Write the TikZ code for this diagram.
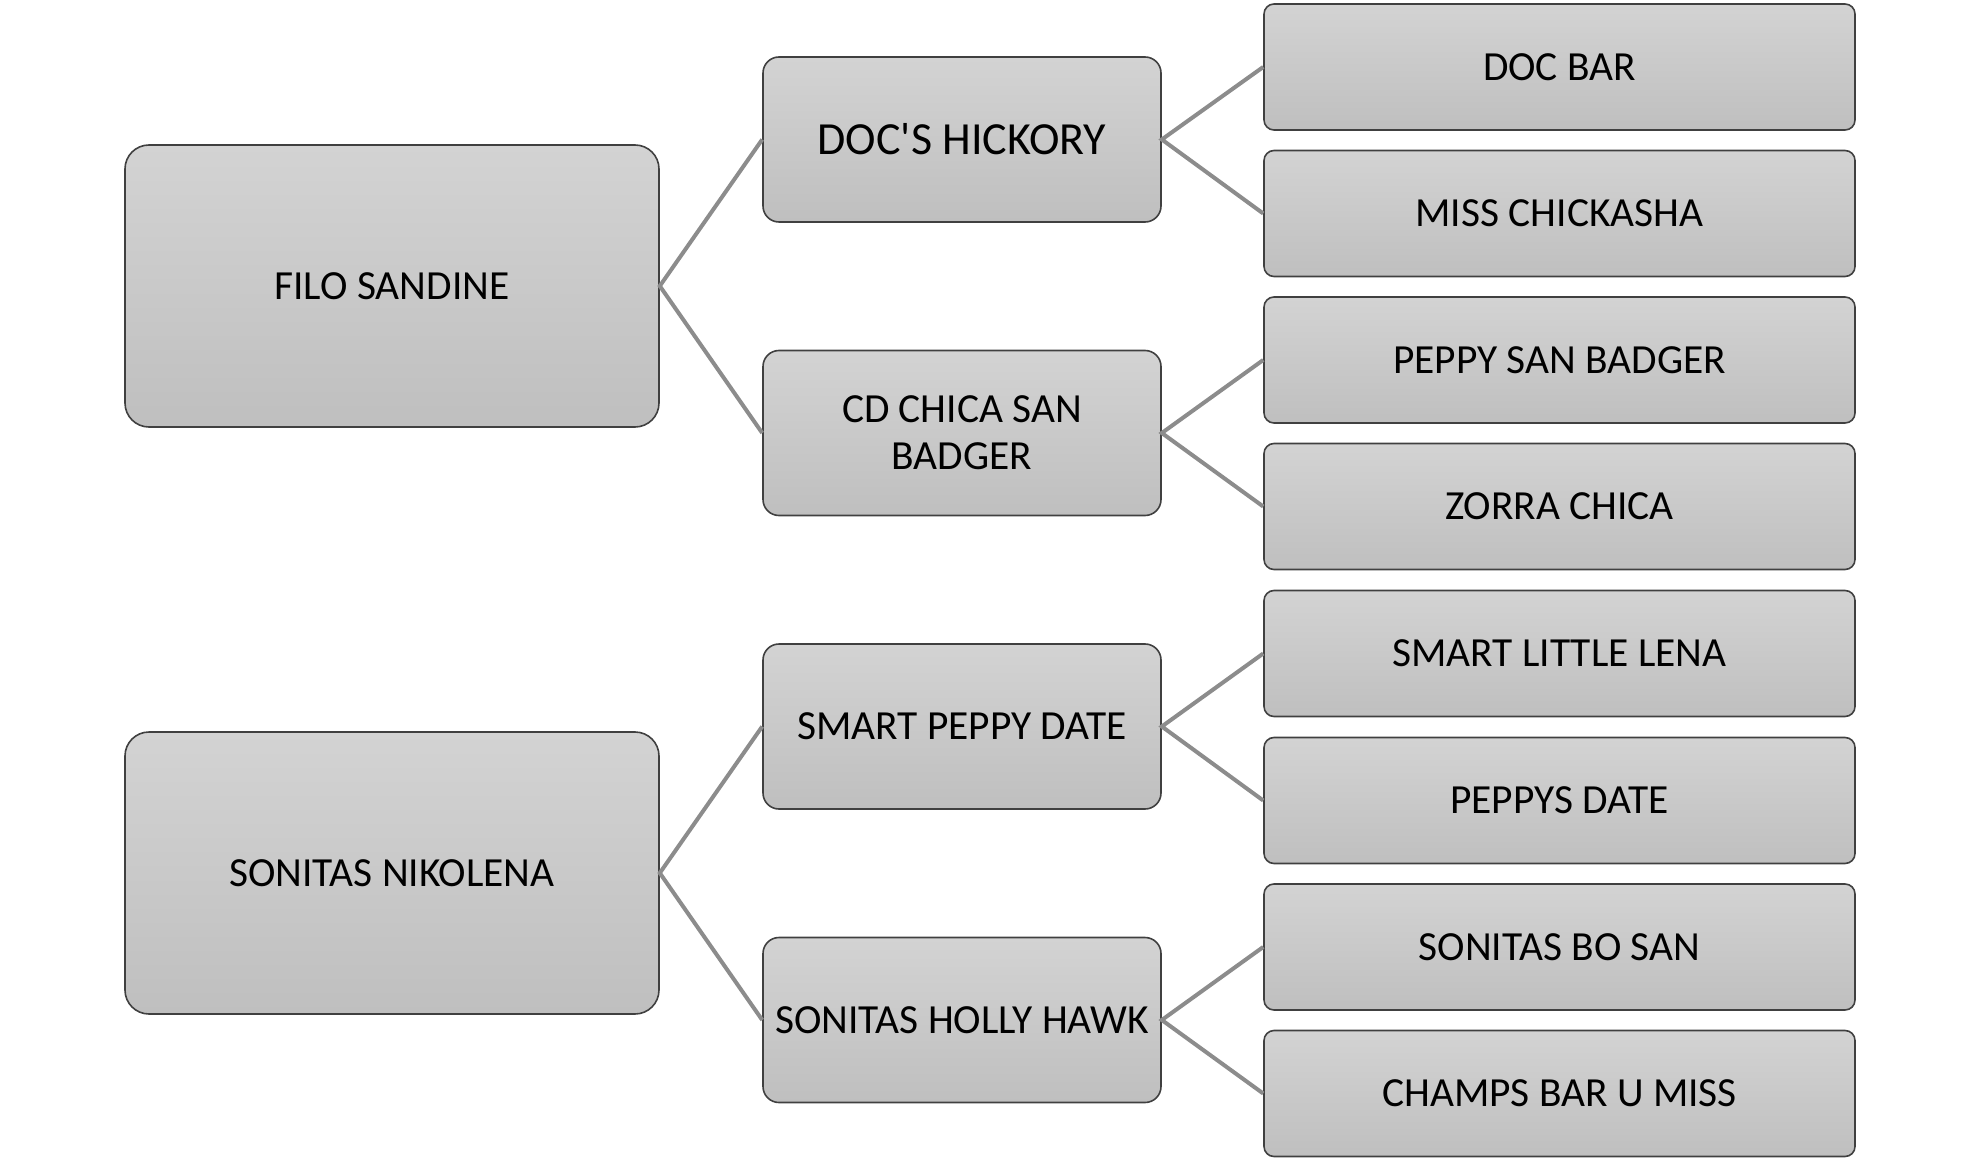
\documentclass[tikz,border=0pt]{standalone}
\usepackage{fontspec}
\setmainfont{Carlito}
\definecolor{boxtop}{RGB}{211,211,211}
\definecolor{boxbot}{RGB}{191,191,191}
\definecolor{boxline}{RGB}{64,64,64}
\definecolor{linkgray}{RGB}{140,140,140}

\tikzset{
  horse/.style={draw=boxline, line width=0.8pt, top color=boxtop, bottom color=boxbot,
    align=center, inner sep=0pt, text=black, font=\fontsize{20.7}{23.5}\selectfont},
  gen1/.style={horse, minimum width=267pt, minimum height=141pt, rounded corners=12pt},
  gen2/.style={horse, minimum width=199pt, minimum height=82.5pt, rounded corners=8pt},
  gen3/.style={horse, minimum width=295.5pt, minimum height=63pt, rounded corners=5pt},
  link/.style={draw=linkgray, line width=2pt}
}

\begin{document}
\begin{tikzpicture}[x=0.5pt, y=-0.5pt]
    \useasboundingbox (0,0) rectangle (1980,1160);
    % first generation
    \node[gen1] (filo) at (392,286) {FILO SANDINE};
    \node[gen1] (sonitas) at (392,873) {SONITAS NIKOLENA};
    % second generation
    \node[gen2, font=\fontsize{23}{27}\selectfont] (hickory) at (962,139.5) {DOC\textquotesingle S HICKORY};
    \node[gen2] (chica) at (962,433) {CD CHICA SAN\\BADGER};
    \node[gen2] (peppydate) at (962,726.5) {SMART PEPPY DATE};
    \node[gen2] (hollyhawk) at (962,1020) {SONITAS HOLLY HAWK};
    % third generation
    \node[gen3] (docbar) at (1559.5,67) {DOC BAR};
    \node[gen3] (chickasha) at (1559.5,213.5) {MISS CHICKASHA};
    \node[gen3] (badger) at (1559.5,360) {PEPPY SAN BADGER};
    \node[gen3] (zorra) at (1559.5,506.5) {ZORRA CHICA};
    \node[gen3] (lena) at (1559.5,653.5) {SMART LITTLE LENA};
    \node[gen3] (peppys) at (1559.5,800.5) {PEPPYS DATE};
    \node[gen3] (bosan) at (1559.5,947) {SONITAS BO SAN};
    \node[gen3] (champs) at (1559.5,1093.5) {CHAMPS BAR U MISS};
    % connectors
    \foreach \p/\a/\b in {filo/hickory/chica, sonitas/peppydate/hollyhawk,
        hickory/docbar/chickasha, chica/badger/zorra,
        peppydate/lena/peppys, hollyhawk/bosan/champs} {
      \draw[link] (\a.west) -- (\p.east) -- (\b.west);
    }
\end{tikzpicture}
\end{document}
